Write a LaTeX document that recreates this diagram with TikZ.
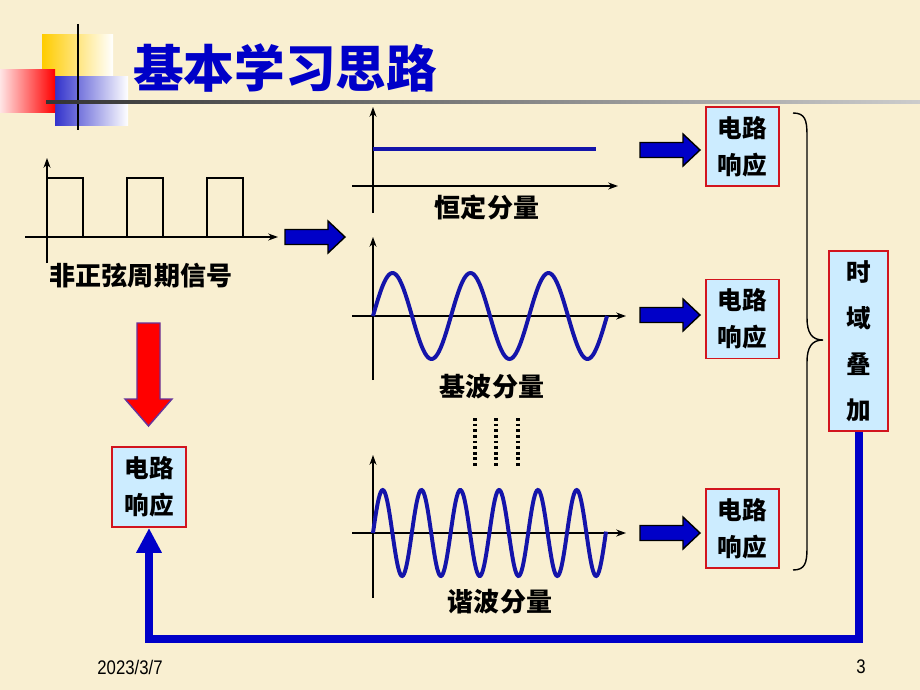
\documentclass[tikz,border=0pt]{standalone}
\usepackage{fontspec}
\setmainfont{Liberation Sans}
\newfontfamily\cjk{Noto Sans CJK SC}
\usetikzlibrary{arrows.meta}
\definecolor{paper}{RGB}{249,239,209}
\definecolor{wave}{RGB}{20,20,170}
\definecolor{darkblue}{RGB}{0,0,200}
\definecolor{boxfill}{RGB}{204,236,255}
\definecolor{boxline}{RGB}{210,20,30}
\definecolor{gold}{RGB}{255,204,0}
\definecolor{deco}{RGB}{51,51,204}
\definecolor{violet}{RGB}{102,51,153}
\tikzset{
  axis/.style={line width=1pt,-{Stealth[length=7pt,width=5pt]}},
  signal/.style={line width=2.8pt,color=wave},
  resp/.style={draw=boxline,line width=1.4pt,fill=boxfill,minimum width=1.825cm,minimum height=1.975cm,
    align=center,inner sep=0pt,font=\cjk\bfseries\fontsize{17.5}{26}\selectfont},
  caption/.style={font=\cjk\bfseries\fontsize{18.5}{20}\selectfont},
  fatarrow/.style={fill=darkblue,draw=black,line width=1pt},
  dots/.style={line width=2.2pt,dash pattern=on 2pt off 2pt},
  feedback/.style={line width=5.7pt,color=darkblue,-{Triangle[length=0.62cm,width=0.6cm]}}
}
\begin{document}
\begin{tikzpicture}[x=0.025cm,y=-0.025cm]
\useasboundingbox (0,0) rectangle (920,690);
\fill[paper] (0,0) rectangle (920,690);

% title bar
\shade[left color=gold,middle color=gold,right color=white] (42,35) rectangle (113,100);
\shade[left color=deco,middle color=deco,right color=white] (55,77) rectangle (128,125);
\shade[left color=red!10,right color=red] (0,70) rectangle (55,112);
\draw[line width=1.5pt] (78,24) -- (78,130);
\shade[left color=black!80,right color=black!20] (46,100.5) rectangle (920,103.5);
\node[font=\cjk\bfseries\fontsize{36}{40}\selectfont,text=darkblue] (title) at (285,68) {基本学习思路};

% periodic signal
\draw[axis] (47,263) -- (47,158);
\draw[axis] (25,237) -- (278,237);
\foreach \x in {47,127,207} \draw[line width=1pt] (\x,237) |- (\x+36,178) -- (\x+36,237);
\node[caption] (sig) at (141,276) {非正弦周期信号};

% constant component
\draw[axis] (373,213) -- (373,107);
\draw[axis] (352,186) -- (618,186);
\draw[signal] (373,149) -- (596,149);
\node[caption] (dc) at (487,207) {恒定分量};

% fundamental
\draw[axis] (373,380) -- (373,237);
\draw[axis] (352,316) -- (626,316);
\draw[signal] plot[domain=0:234,samples=150,smooth] ({373+\x},{316-43*sin(\x/78*360)});
\node[caption] (fund) at (492,387) {基波分量};

\foreach \x in {475,496,518} \draw[dots] (\x,418) -- (\x,468);

% harmonic
\draw[axis] (373,598) -- (373,455);
\draw[axis] (352,533) -- (626,533);
\draw[signal] plot[domain=0:233,samples=240,smooth] ({373+\x},{533-43*sin(\x/38.8*360)});
\node[caption] (harm) at (500,602) {谐波分量};

% block arrows
\foreach \x/\y in {285/237,640/150,640/315,640/533}
  \draw[fatarrow] (\x,\y-7.5) -- (\x+43,\y-7.5) -- (\x+43,\y-16) -- (\x+60,\y)
    -- (\x+43,\y+16) -- (\x+43,\y+7.5) -- (\x,\y+7.5) -- cycle;
\draw[fill=red,draw=violet,line width=1pt] (137,323) -- (160,323) -- (160,399) -- (172,399)
  -- (148.5,426) -- (125,399) -- (137,399) -- cycle;

% responses
\node[resp] (r1) at (742.5,146.5) {电路\\响应};
\node[resp] (r2) at (742.5,319) {电路\\响应};
\node[resp] (r3) at (742.5,528.5) {电路\\响应};
\node[resp,minimum width=1.85cm,minimum height=2cm] (lr) at (149,487) {电路\\响应};
\node[resp,minimum width=1.475cm,minimum height=4.5cm,font=\cjk\bfseries\fontsize{17.5}{32.6}\selectfont]
  (sum) at (858.5,341) {时\\域\\叠\\加};

\draw[line width=1pt] (793,113) .. controls (805,113) and (807,120) .. (807,135) -- (807,318)
  .. controls (807,333) and (812,340) .. (823,340) .. controls (812,340) and (807,347) .. (807,362)
  -- (807,548) .. controls (807,563) and (805,570) .. (793,570);

\draw[feedback] (sum.south) -- ++(0,207) -| (lr.south);

% footer
\node[font=\fontsize{14}{16}\selectfont,xscale=0.85] (date) at (130,667) {2023/3/7};
\node[font=\fontsize{14}{16}\selectfont,xscale=0.85] (page) at (861,667) {3};
\end{tikzpicture}
\end{document}
